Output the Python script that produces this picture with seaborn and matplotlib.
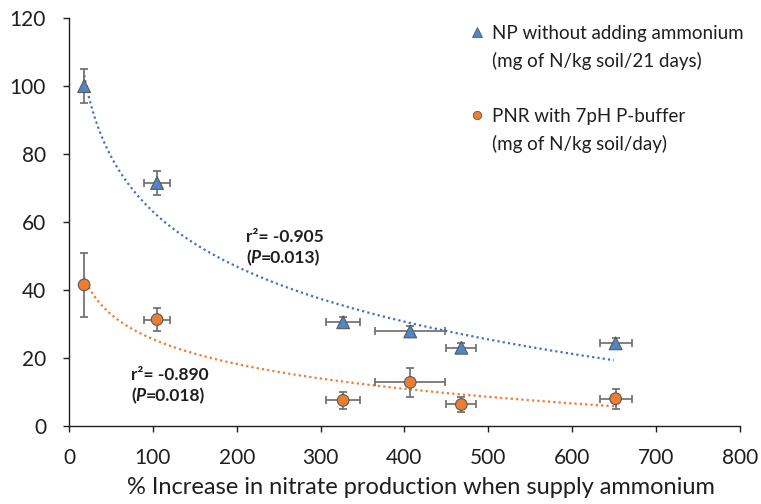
import numpy as np
import pandas as pd
import seaborn as sns
import matplotlib.pyplot as plt
from matplotlib.lines import Line2D

# data
np_x = [18, 105, 327, 407, 468, 652]
np_y = [100, 71.5, 30.5, 27.8, 23, 24.3]
np_xerr = [0, 15, 20, 42, 18, 19]
np_yerr = [5, 3.5, 1.5, 1.5, 1.5, 1.5]

pnr_x = [18, 105, 327, 407, 468, 652]
pnr_y = [41.5, 31.3, 7.5, 12.8, 6.3, 8]
pnr_xerr = [0, 15, 20, 42, 18, 19]
pnr_yerr = [9.5, 3.3, 2.5, 4.2, 2.3, 3]

blue = '#4472C4'
blue_fill = '#4f86c6'
orange = '#ED7D31'
err_col = '#6b6b6b'
txt = '#1f1f1f'

sns.set_style('white')
plt.rcParams['font.family'] = ['Lato', 'DejaVu Sans']

fig = plt.figure(figsize=(7.61, 5.04), dpi=100)
ax = fig.add_axes([0.0907, 0.155, 0.8813, 0.809])

df = pd.DataFrame({
    'x': np_x + pnr_x,
    'y': np_y + pnr_y,
    'series': ['NP'] * len(np_x) + ['PNR'] * len(pnr_x),
})

# trendlines (logarithmic, fitted to the points)
for xs, ys, col in [(np_x, np_y, blue), (pnr_x, pnr_y, orange)]:
    a, b = np.polyfit(np.log(xs), ys, 1)
    xx = np.linspace(min(xs), 650, 300)
    ax.plot(xx, a * np.log(xx) + b, color=col, linestyle=(0, (1.0, 1.4)),
            linewidth=1.6, dash_capstyle='butt', zorder=1)

# error bars
for xs, ys, xe, ye in [(np_x, np_y, np_xerr, np_yerr), (pnr_x, pnr_y, pnr_xerr, pnr_yerr)]:
    ax.errorbar(xs, ys, xerr=xe, yerr=ye, fmt='none', ecolor=err_col,
                elinewidth=1.2, capsize=3.2, capthick=1.2, zorder=2)

sns.scatterplot(data=df, x='x', y='y', hue='series', style='series',
                markers={'NP': '^', 'PNR': 'o'},
                palette={'NP': blue_fill, 'PNR': orange},
                size='series', sizes={'NP': 85, 'PNR': 70},
                edgecolor='#5a5a5a', linewidth=0.8, legend=False,
                ax=ax, zorder=3)

ax.set_xlim(0, 800)
ax.set_ylim(0, 120)
ax.set_xticks(range(0, 801, 100))
ax.set_yticks(range(0, 121, 20))
ax.set_xlabel('% Increase in nitrate production when supply ammonium',
              fontsize=17, color=txt)
ax.xaxis.set_label_coords(0.525, -0.125)
ax.set_ylabel('')
ax.tick_params(axis='both', labelsize=15, colors=txt, length=4.5,
               direction='out', left=True, bottom=True, width=1)
ax.tick_params(axis='y', pad=12)
ax.tick_params(axis='x', pad=11.5)
sns.despine(ax=ax)
for s in ['left', 'bottom']:
    ax.spines[s].set_color(txt)
    ax.spines[s].set_linewidth(1)

# annotations
def stat_text(x, y, r2, p):
    t1 = ax.text(x, y, f'r\u00b2= {r2}', fontsize=12.5, fontweight='bold',
                 va='top', ha='left', color=txt)
    t2 = ax.annotate('(', xy=(0, 0), xycoords=t1, xytext=(0, -3),
                     textcoords='offset points', fontsize=12.5,
                     fontweight='bold', va='top', ha='left', color=txt)
    t3 = ax.annotate('P', xy=(1, 0), xycoords=t2, fontsize=12.5,
                     fontweight='bold', fontstyle='italic', va='bottom',
                     ha='left', color=txt)
    ax.annotate(f'={p})', xy=(1, 0), xycoords=t3, fontsize=12.5,
                fontweight='bold', va='bottom', ha='left', color=txt)

stat_text(211, 57.8, '-0.905', '0.013')
stat_text(74, 17.2, '-0.890', '0.018')

blank = Line2D([], [], linestyle='none')
handles = [
    Line2D([], [], marker='^', linestyle='none', markersize=7,
           markerfacecolor=blue_fill, markeredgecolor='#5a5a5a', markeredgewidth=0.6),
    blank, blank,
    Line2D([], [], marker='o', linestyle='none', markersize=6,
           markerfacecolor=orange, markeredgecolor='#5a5a5a', markeredgewidth=0.6),
    blank,
]
labels = ['NP without adding ammonium', '(mg of N/kg soil/21 days)', '',
          'PNR with 7pH P-buffer', '(mg of N/kg soil/day)']
leg = ax.legend(handles, labels, loc='upper left', bbox_to_anchor=(0.572, 1.025),
                frameon=False, fontsize=13.5, handlelength=0.8, handletextpad=0.4,
                labelspacing=0.55)
for t in leg.get_texts():
    t.set_color(txt)

fig.savefig('out.png', dpi=100)
